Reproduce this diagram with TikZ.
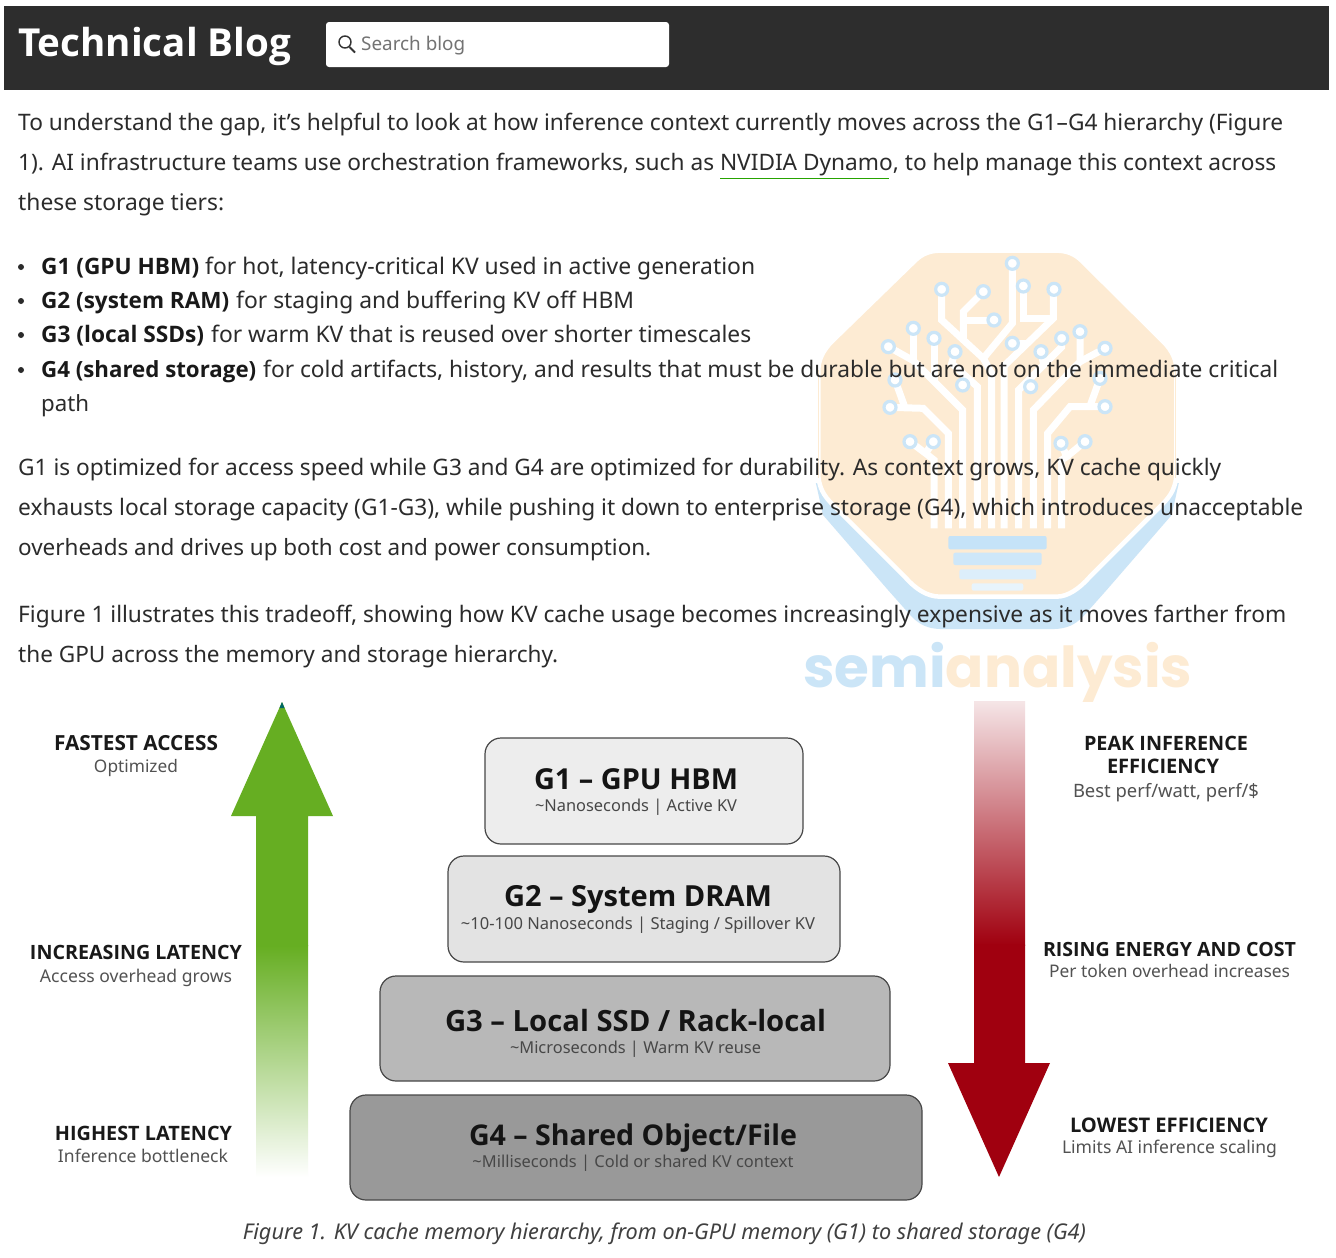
\documentclass[tikz,border=0pt]{standalone}
\usepackage{fontspec}
\usepackage{graphicx}
\setmainfont{Noto Sans}
\newfontfamily\bfam{Open Sans}[UprightFont=* Bold]
\renewcommand{\bfseries}{\bfam}
\newfontfamily\wmfont{Poppins}[UprightFont=* Bold]
\newcommand{\fl}[2]{\resizebox{#1pt}{!}{#2}}
\definecolor{hdr}{HTML}{2D2D2D}
\definecolor{bodyc}{HTML}{2B2B2B}
\definecolor{wmorange}{HTML}{FDEBD3}
\definecolor{wmblue}{HTML}{CBE5F7}
\definecolor{wmblueb}{HTML}{C5E3F8}
\definecolor{arrgreen}{HTML}{66AE22}
\definecolor{arrred}{HTML}{A0000F}
\tikzset{
  bodytxt/.style={anchor=base west,inner sep=0pt,text=bodyc,font=\fontsize{22}{26}\selectfont},
  boldtxt/.style={anchor=base west,inner sep=0pt,text=black!90,font=\fontsize{21}{26}\selectfont\bfseries},
  lbltitle/.style={anchor=base,inner sep=0pt,text=black!90,font=\fontsize{19}{23}\selectfont\bfseries},
  lblsub/.style={anchor=base,inner sep=0pt,text=black!68,font=\fontsize{17}{21}\selectfont},
  tiertitle/.style={anchor=base,inner sep=0pt,text=black!92,font=\fontsize{29}{33}\selectfont\bfseries},
  tiersub/.style={anchor=base,inner sep=0pt,text=black!72,font=\fontsize{16}{20}\selectfont},
  tier/.style={draw=black!72,line width=1.2pt,rounded corners=16pt},
  trace/.style={draw=white,line width=7pt,line join=miter},
}
\begin{document}
\begin{tikzpicture}[x=1pt,y=-1pt]
\useasboundingbox (0,0) rectangle (1336,1258);
\fill[white] (0,0) rectangle (1336,1258);
% header
\fill[hdr] (4,6) rectangle (1329,90);
\node[anchor=base west,inner sep=0pt,text=white,font=\fontsize{38}{42}\selectfont\bfseries] (title) at (18,56) {\fl{273}{Technical Blog}};
\node[fill=white,rounded corners=3pt,minimum width=343pt,minimum height=45pt,inner sep=0pt] (search) at (497.5,44.5) {};
\draw[black!80,line width=1.4pt] (345,42) circle (6pt);
\draw[black!80,line width=1.8pt] (349.5,47) -- (355,52.5);
\node[anchor=base west,inner sep=0pt,text=black!55,font=\fontsize{19}{23}\selectfont] (searchtxt) at (361,50) {\fl{104}{Search blog}};
% watermark
\begin{scope}[shift={(780,230)},x=0.33333pt,y=-0.33333pt]
\fill[wmblue] (103,740) -- (111,774) -- (129,855) -- (324,1080) -- (395,1160) .. controls (420,1185) and (445,1196) .. (480,1197) -- (824,1197) .. controls (859,1196) and (884,1185) .. (909,1160) -- (980,1080) -- (1175,855) -- (1193,774) -- (1201,740) -- cycle;
\filldraw[fill=wmorange,draw=white,line width=4.5pt] (115,740) .. controls (120,785) and (140,806) .. (165,831) -- (375,1041) .. controls (405,1075) and (440,1100) .. (480,1100) -- (830,1100) .. controls (864,1100) and (899,1075) .. (929,1041) -- (1139,831) .. controls (1164,806) and (1184,785) .. (1189,740) -- (1189,420) .. controls (1190,390) and (1175,360) .. (1150,335) -- (905,92) .. controls (885,72) and (860,62) .. (830,62) -- (480,62) .. controls (450,62) and (425,72) .. (405,92) -- (155,335) .. controls (130,360) and (115,390) .. (115,420) -- cycle;
\fill[white] (100,700) rectangle (114,760);
\fill[white] (1190,700) rectangle (1204,760);
\fill[wmorange] (115,420) rectangle (118,745);
\fill[wmorange] (1186,420) rectangle (1189,745);
% traces
\draw[trace] (462,895) -- (462,690) -- (437,670) -- (390,635);
\draw[trace] (437,670) -- (460,635);
\draw[trace] (505,895) -- (505,610) -- (430,535) -- (330,532);
\draw[trace] (375,533) -- (345,450);
\draw[trace] (548,895) -- (548,540) -- (400,392) -- (325,350);
\draw[trace] (400,392) -- (400,295);
\draw[trace] (462,454) -- (462,325);
\draw[trace] (592,895) -- (592,470) -- (515,400) -- (525,365);
\draw[trace] (565,445) -- (548,465);
\draw[trace] (635,895) -- (635,430) -- (610,385) -- (485,270) -- (485,178);
\draw[trace] (550,330) -- (550,245) -- (610,185);
\draw[trace] (550,270) -- (642,270);
\draw[trace] (610,385) -- (697,280) -- (697,100);
\draw[trace] (672,895) -- (672,408) -- (820,265) -- (820,178);
\draw[trace] (820,265) -- (730,265) -- (730,165);
\draw[trace] (740,340) -- (697,340);
\draw[trace] (716,895) -- (716,480) -- (845,351) -- (845,325);
\draw[trace] (790,400) -- (783,365);
\draw[trace] (735,450) -- (752,470);
\draw[trace] (760,895) -- (760,540) -- (900,395) -- (900,305);
\draw[trace] (900,395) -- (975,355);
\draw[trace] (803,895) -- (803,610) -- (870,530) -- (975,530);
\draw[trace] (930,528) -- (960,445);
\draw[trace] (845,895) -- (845,690) -- (860,680) -- (843,640);
\draw[trace] (860,680) -- (915,635);
\foreach \a/\b in {697/100,485/178,610/185,642/270,730/168,822/178,400/295,462/325,325/350,525/365,345/450,548/465,330/532,390/635,460/635,697/340,783/365,845/325,900/305,975/355,960/445,752/470,975/530,843/640,915/635}{
  \draw[wmblue,line width=3.2pt,fill=white] (\a,\b) circle (6pt);
}
\fill[wmblueb,rounded corners=2pt] (505,918) rectangle (800,958);
\fill[wmblueb!85,rounded corners=2pt] (520,968) rectangle (785,1005);
\fill[wmblueb!60,rounded corners=2pt] (538,1018) rectangle (768,1048);
\fill[wmblueb!40,rounded corners=2pt] (575,1060) rectangle (730,1082);
\end{scope}
\node[anchor=base west,inner sep=0pt,font=\fontsize{62}{66}\wmfont] (wm) at (803,687) {\fl{389}{\textcolor{wmblue}{semi}\textcolor{wmorange}{analysis}}};
% body text
\node[bodytxt] (l1) at (18,130) {\fl{1265}{To understand the gap, it’s helpful to look at how inference context currently moves across the G1–G4 hierarchy (Figure}};
\node[bodytxt] (l2) at (18,170) {\fl{1258}{1). AI infrastructure teams use orchestration frameworks, such as NVIDIA Dynamo, to help manage this context across}};
\node[bodytxt] (l3) at (18,210) {\fl{206}{these storage tiers:}};
\draw[green!55!black!80!lime,line width=1.8pt] (720,178.5) -- (889,178.5);
\foreach \by in {267,301,335,370}{\fill[bodyc] (21,\by) circle (3pt);}
\node[boldtxt] (b1h) at (41,274) {\fl{158}{G1 (GPU HBM)}};
\node[bodytxt] (b1) at (205,274) {\fl{550}{for hot, latency-critical KV used in active generation}};
\node[boldtxt] (b2h) at (41,308) {\fl{188}{G2 (system RAM)}};
\node[bodytxt] (b2) at (236,308) {\fl{398}{for staging and buffering KV off HBM}};
\node[boldtxt] (b3h) at (41,342) {\fl{163}{G3 (local SSDs)}};
\node[bodytxt] (b3) at (211,342) {\fl{540}{for warm KV that is reused over shorter timescales}};
\node[boldtxt] (b4h) at (41,377) {\fl{215}{G4 (shared storage)}};
\node[bodytxt] (b4) at (263,377) {\fl{1015}{for cold artifacts, history, and results that must be durable but are not on the immediate critical}};
\node[bodytxt] (b5) at (41,411) {\fl{48}{path}};
\node[bodytxt] (p1) at (18,475) {\fl{1203}{G1 is optimized for access speed while G3 and G4 are optimized for durability. As context grows, KV cache quickly}};
\node[bodytxt] (p2) at (18,515) {\fl{1285}{exhausts local storage capacity (G1-G3), while pushing it down to enterprise storage (G4), which introduces unacceptable}};
\node[bodytxt] (p3) at (18,555) {\fl{633}{overheads and drives up both cost and power consumption.}};
\node[bodytxt] (q1) at (18,622) {\fl{1268}{Figure 1 illustrates this tradeoff, showing how KV cache usage becomes increasingly expensive as it moves farther from}};
\node[bodytxt] (q2) at (18,662) {\fl{540}{the GPU across the memory and storage hierarchy.}};
% green arrow
\fill[arrgreen] (282,702) -- (333,816) -- (308,816) -- (308,946) -- (256,946) -- (256,816) -- (231,816) -- cycle;
\fill[teal!80!black] (282,702) -- (284.5,708) -- (279.5,708) -- cycle;
\shade[top color=arrgreen,bottom color=white,middle color=arrgreen!50] (256,945.5) rectangle (308,1177);
% red arrow
\shade[top color=arrred!10,bottom color=arrred] (974,701) rectangle (1025,945);
\fill[arrred] (974,944.5) -- (1025,944.5) -- (1025,1063) -- (1050,1063) -- (999,1177) -- (948,1063) -- (974,1063) -- cycle;
% tiers
\node[tier,fill=black!7,minimum width=318pt,minimum height=106pt,inner sep=0pt] (g1) at (644,791) {};
\node[tier,fill=black!11,minimum width=392pt,minimum height=106pt,inner sep=0pt] (g2) at (644,909) {};
\node[tier,fill=black!28,minimum width=510pt,minimum height=105pt,inner sep=0pt] (g3) at (635,1028.5) {};
\node[tier,fill=black!40,minimum width=572pt,minimum height=105pt,inner sep=0pt] (g4) at (636,1147.5) {};
\node[tiertitle] (g1t) at (636,789) {\fl{204}{G1 – GPU HBM}};
\node[tiersub] (g1s) at (636,811) {\fl{202}{\textasciitilde Nanoseconds | Active KV}};
\node[tiertitle] (g2t) at (638,906) {\fl{268}{G2 – System DRAM}};
\node[tiersub] (g2s) at (638,929) {\fl{354}{\textasciitilde 10-100 Nanoseconds | Staging / Spillover KV}};
\node[tiertitle] (g3t) at (635.5,1031) {\fl{381}{G3 – Local SSD / Rack-local}};
\node[tiersub] (g3s) at (635.5,1053) {\fl{251}{\textasciitilde Microseconds | Warm KV reuse}};
\node[tiertitle] (g4t) at (633,1145) {\fl{328}{G4 – Shared Object/File}};
\node[tiersub] (g4s) at (633,1167) {\fl{321}{\textasciitilde Milliseconds | Cold or shared KV context}};
% side labels
\node[lbltitle] (a1) at (136,750) {\fl{164}{FASTEST ACCESS}};
\node[lblsub] (a2) at (136,772) {\fl{84}{Optimized}};
\node[lbltitle] (b1l) at (136,959) {\fl{212}{INCREASING LATENCY}};
\node[lblsub] (b2l) at (136,982) {\fl{192}{Access overhead grows}};
\node[lbltitle] (c1) at (143.5,1140) {\fl{177}{HIGHEST LATENCY}};
\node[lblsub] (c2) at (143,1162) {\fl{170}{Inference bottleneck}};
\node[lbltitle] (d1) at (1166,750) {\fl{164}{PEAK INFERENCE}};
\node[lbltitle] (d2) at (1163,773) {\fl{112}{EFFICIENCY}};
\node[lblsub] (d3) at (1166,797) {\fl{186}{Best perf/watt, perf/\$}};
\node[lbltitle] (e1) at (1169.5,956) {\fl{253}{RISING ENERGY AND COST}};
\node[lblsub] (e2) at (1169.5,977) {\fl{241}{Per token overhead increases}};
\node[lbltitle] (f1) at (1169,1132) {\fl{198}{LOWEST EFFICIENCY}};
\node[lblsub] (f2) at (1169.5,1153) {\fl{215}{Limits AI inference scaling}};
\node[anchor=base,inner sep=0pt,text=black!75,font=\fontsize{21}{25}\selectfont\itshape] (cap) at (664.5,1239) {\fl{843}{Figure 1. KV cache memory hierarchy, from on-GPU memory (G1) to shared storage (G4)}};
\end{tikzpicture}
\end{document}
